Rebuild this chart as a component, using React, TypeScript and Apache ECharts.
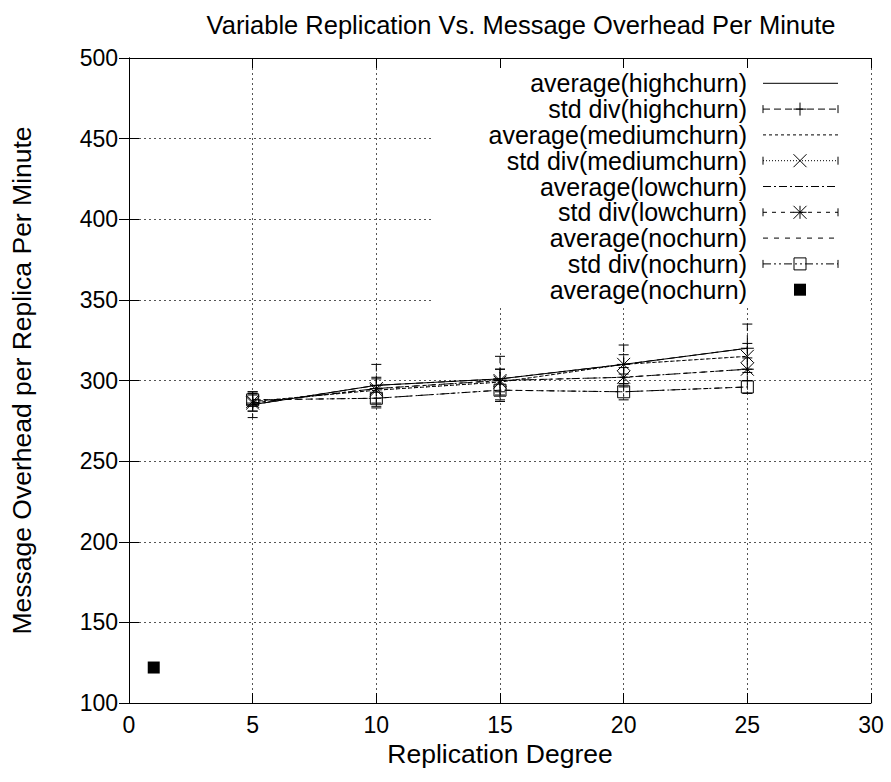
import React, { useEffect, useRef } from "react";
import * as echarts from "echarts";

// ---- data ----
const xs = [5, 10, 15, 20, 25];
const highAvg = [285, 297, 301, 310, 320];
const medAvg = [287, 294, 299, 310, 315];
const lowAvg = [286, 295, 300, 302, 307];
const noAvg = [288, 289, 294, 293, 296];
const highStd = [8, 13, 14, 12, 15];
const medStd = [6, 8, 8, 6, 8];
const lowStd = [5, 6, 7, 6, 7];
const noStd = [4, 6, 6, 5, 4];
const extraX = [1];
const extraY = [122];

const xTicks = { min: 0, max: 30, interval: 5 };
const yTicks = { min: 100, max: 500, interval: 50 };

const legendLabels = [
  "average(highchurn)",
  "std div(highchurn)",
  "average(mediumchurn)",
  "std div(mediumchurn)",
  "average(lowchurn)",
  "std div(lowchurn)",
  "average(nochurn)",
  "std div(nochurn)",
  "average(nochurn)",
];

const FONT = '"Liberation Sans", Arial, Helvetica, sans-serif';
const FS_TICK = 23;
const FS_LEGEND = 25;
const FS_NAME = 26.5;
const FS_TITLE = 25.5;

type Marker = "plus" | "cross" | "star" | "box";

function ln(x1: number, y1: number, x2: number, y2: number, dash?: number[], z = 3) {
  return {
    type: "line",
    z,
    shape: { x1, y1, x2, y2 },
    style: { stroke: "#000", lineWidth: 1, lineDash: dash || null, fill: null },
  };
}

function marker(kind: Marker, cx: number, cy: number, z = 3): any[] {
  const h = 6.5;
  const out: any[] = [];
  if (kind === "plus" || kind === "star") {
    out.push(ln(cx - h, cy, cx + h, cy, undefined, z));
    out.push(ln(cx, cy - h, cx, cy + h, undefined, z));
  }
  if (kind === "cross" || kind === "star") {
    out.push(ln(cx - h, cy - h, cx + h, cy + h, undefined, z));
    out.push(ln(cx - h, cy + h, cx + h, cy - h, undefined, z));
  }
  if (kind === "box") {
    out.push({
      type: "rect",
      z,
      shape: { x: cx - 6, y: cy - 6, width: 12, height: 12 },
      style: { stroke: "#000", lineWidth: 1, fill: null },
    });
  }
  return out;
}

const solid: number[] | null = null;
const dashHighStd = [7, 4];
const dashMedAvg = [3, 3];
const dashMedStd = [1, 2];
const dashLowAvg = [8, 3, 2, 3];
const dashLowStd = [4, 5];
const dashNoAvg = [5, 6];
const dashNoStd = [8, 3, 2, 3, 2, 3];

function lineSeries(name: string, ys: number[], dash: number[] | null) {
  return {
    type: "line",
    name,
    data: xs.map((x, i) => [x, ys[i]]),
    showSymbol: false,
    symbol: "none",
    lineStyle: { color: "#000", width: 1, type: dash || "solid" },
    z: 2,
  };
}

function errSeries(name: string, ys: number[], sd: number[], dash: number[], kind: Marker) {
  return {
    type: "custom",
    name,
    data: xs.map((x, i) => [x, ys[i], sd[i]]),
    encode: { x: 0, y: 1 },
    z: 3,
    renderItem: (params: any, api: any) => {
      const x = api.value(0);
      const y = api.value(1);
      const s = api.value(2);
      const c = api.coord([x, y]);
      const t = api.coord([x, y + s]);
      const b = api.coord([x, y - s]);
      const children: any[] = [
        ln(c[0], t[1], c[0], b[1], dash),
        ln(c[0] - 5, t[1], c[0] + 5, t[1]),
        ln(c[0] - 5, b[1], c[0] + 5, b[1]),
        ...marker(kind, c[0], c[1]),
      ];
      return { type: "group", children };
    },
  };
}

export default function App() {
  const ref = useRef<HTMLDivElement>(null);
  useEffect(() => {
    document.body.style.margin = "0";
    const chart = echarts.init(ref.current!, null, { renderer: "svg" });

    // legend (opaque box like gnuplot's key)
    const lx1 = 763, lx2 = 838, lmid = 800, textX = 747;
    const rowY = (i: number) => 83.3 + 25.8 * i;
    const legendEls: any[] = [
      {
        type: "rect",
        z: 1,
        shape: { x: 433, y: 59, width: 437, height: 247 },
        style: { fill: "#fff", stroke: null },
      },
    ];
    const sampleDash: (number[] | null)[] = [solid, dashHighStd, dashMedAvg, dashMedStd, dashLowAvg, dashLowStd, dashNoAvg, dashNoStd];
    const sampleMarker: (Marker | null)[] = [null, "plus", null, "cross", null, "star", null, "box"];
    legendLabels.forEach((lab, i) => {
      const y = rowY(i);
      legendEls.push({
        type: "text",
        z: 3,
        x: textX,
        y,
        style: {
          text: lab,
          fill: "#000",
          fontSize: FS_LEGEND,
          lineHeight: 25,
          fontFamily: FONT,
          align: "right",
          verticalAlign: "middle",
        },
      });
      if (i < 8) {
        legendEls.push(ln(lx1, y, lx2, y, sampleDash[i] || undefined));
        const mk = sampleMarker[i];
        if (mk) {
          legendEls.push(ln(lx1, y - 4, lx1, y + 4));
          legendEls.push(ln(lx2, y - 4, lx2, y + 4));
          legendEls.push(...marker(mk, lmid, y));
        }
      } else {
        legendEls.push({
          type: "rect",
          z: 3,
          shape: { x: lmid - 6, y: y - 6, width: 12, height: 12 },
          style: { fill: "#000" },
        });
      }
    });

    const axisLine = { show: true, lineStyle: { color: "#000", width: 1 } };
    const tick = { show: true, inside: true, length: 10, lineStyle: { color: "#000", width: 1 } };
    const split = { show: true, lineStyle: { color: "#555", width: 1, type: [2, 3] } };
    const tickLabel = { fontSize: FS_TICK, fontFamily: FONT, color: "#000" };
    const nameStyle = { fontSize: FS_NAME, fontFamily: FONT, color: "#000" };

    chart.setOption({
      animation: false,
      backgroundColor: "#fff",
      title: {
        text: "Variable Replication Vs. Message Overhead Per Minute",
        left: 516,
        top: 7,
        textAlign: "center",
        textStyle: { fontSize: FS_TITLE, fontWeight: "normal", fontFamily: FONT, color: "#000" },
      },
      grid: { left: 129, top: 58, width: 742, height: 645 },
      xAxis: [
        {
          type: "value",
          ...xTicks,
          position: "bottom",
          z: 0,
          axisLine,
          axisTick: tick,
          axisLabel: { ...tickLabel, margin: 10 },
          splitLine: split,
          name: "Replication Degree",
          nameLocation: "middle",
          nameGap: 36,
          nameTextStyle: nameStyle,
        },
        {
          type: "value",
          ...xTicks,
          position: "top",
          z: 5,
          axisLine,
          axisTick: tick,
          axisLabel: { show: false },
          splitLine: { show: false },
        },
      ],
      yAxis: [
        {
          type: "value",
          ...yTicks,
          position: "left",
          z: 0,
          axisLine,
          axisTick: tick,
          axisLabel: { ...tickLabel, margin: 11 },
          splitLine: split,
          name: "Message Overhead per Replica Per Minute",
          nameLocation: "middle",
          nameGap: 94,
          nameTextStyle: nameStyle,
        },
        {
          type: "value",
          ...yTicks,
          position: "right",
          z: 5,
          axisLine,
          axisTick: tick,
          axisLabel: { show: false },
          splitLine: { show: false },
        },
      ],
      graphic: { elements: legendEls },
      series: [
        lineSeries("average(highchurn)", highAvg, solid),
        lineSeries("std div(highchurn)", highAvg, dashHighStd),
        errSeries("std div(highchurn) err", highAvg, highStd, dashHighStd, "plus"),
        lineSeries("average(mediumchurn)", medAvg, dashMedAvg),
        lineSeries("std div(mediumchurn)", medAvg, dashMedStd),
        errSeries("std div(mediumchurn) err", medAvg, medStd, dashMedStd, "cross"),
        lineSeries("average(lowchurn)", lowAvg, dashLowAvg),
        lineSeries("std div(lowchurn)", lowAvg, dashLowStd),
        errSeries("std div(lowchurn) err", lowAvg, lowStd, dashLowStd, "star"),
        lineSeries("average(nochurn)", noAvg, dashNoAvg),
        lineSeries("std div(nochurn)", noAvg, dashNoStd),
        errSeries("std div(nochurn) err", noAvg, noStd, dashNoStd, "box"),
        {
          type: "scatter",
          name: "average(nochurn) point",
          data: extraX.map((x, i) => [x, extraY[i]]),
          symbol: "rect",
          symbolSize: 12,
          itemStyle: { color: "#000", opacity: 1 },
          z: 3,
        },
      ],
    });
    return () => chart.dispose();
  }, []);
  return <div ref={ref} style={{ width: 891, height: 782 }} />;
}
